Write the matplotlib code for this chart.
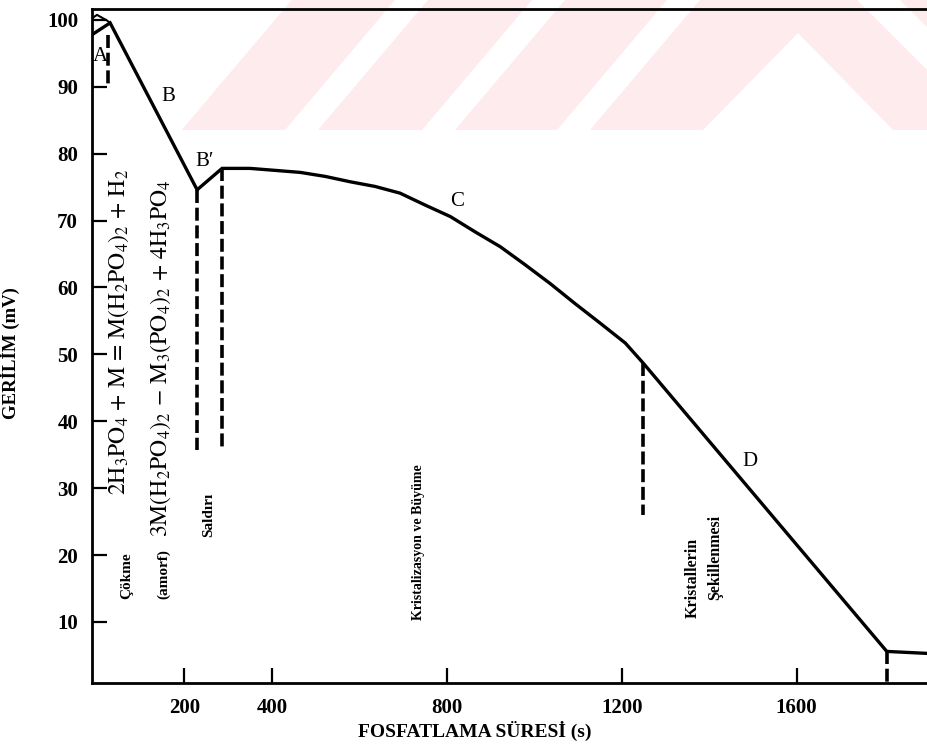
import matplotlib
matplotlib.use('Agg')
import numpy as np
from matplotlib import pyplot as plt
from matplotlib.patches import Polygon

plt.rcParams['font.family'] = ['Liberation Serif', 'DejaVu Serif']
plt.rcParams['mathtext.fontset'] = 'stix'

# curve (time s, potential mV)
t_curve = [-11, 30, 229, 286, 350, 408, 465, 522, 579, 636, 693, 751, 808, 865,
           922, 979, 1036, 1093, 1150, 1208, 1249, 1806, 1900]
v_curve = [97.8, 99.55, 74.6, 77.8, 77.8, 77.5, 77.2, 76.6, 75.8, 75.1, 74.1, 72.3, 70.6, 68.3,
           66.1, 63.4, 60.6, 57.6, 54.7, 51.7, 48.7, 5.6, 5.3]
# small hook at the top-left corner
t_hook = [-11, 0, 23, 30]
v_hook = [100.25, 100.75, 99.9, 99.55]

# dashed stage markers: (time, top, bottom)
stage_t = [26, 229, 286, 1249, 1806]
stage_top = [97.8, 74.6, 77.8, 48.7, 5.6]
stage_bot = [90.3, 35.7, 36.0, 26.0, 0.9]

point_labels = ['A', 'B', 'B′', 'C', 'D']
point_t = [8, 164, 246, 823, 1493]
point_v = [94.5, 88.5, 78.9, 72.8, 34.0]

x_ticks = [200, 400, 800, 1200, 1600]
y_ticks = [10, 20, 30, 40, 50, 60, 70, 80, 90, 100]

W, H = 927, 745
fig = plt.figure(figsize=(W / 100, H / 100), dpi=100)


def fpx(x, y):
    return (x / W, 1 - y / H)


# faint pink watermark at the top
pink = '#fdebee'
bands = [(181.7, 285), (318, 422), (455, 557)]
for b0, b1 in bands:
    pts = [fpx(b0, 130), fpx(b0 + 110, 0), fpx(b1 + 110, 0), fpx(b1, 130)]
    fig.patches.append(Polygon(pts, closed=True, transform=fig.transFigure,
                               facecolor=pink, edgecolor='none', zorder=-1))
lam = [(590, 130), (700, 0), (857, 0), (927, 70), (927, 130), (893, 130), (798, 33), (703, 130)]
fig.patches.append(Polygon([fpx(*p) for p in lam], closed=True, transform=fig.transFigure,
                           facecolor=pink, edgecolor='none', zorder=-1))
fig.patches.append(Polygon([fpx(900, 0), fpx(927, 0), fpx(927, 27)], closed=True,
                           transform=fig.transFigure, facecolor=pink, edgecolor='none', zorder=-1))

ax = fig.add_axes([92 / W, 1 - 683 / H, (W - 92) / W, (683 - 8.5) / H])
ax.set_facecolor('none')
ax.set_xlim(-11.4, 1898)
ax.set_ylim(0.88, 101.7)

ax.plot(t_curve, v_curve, color='black', lw=2.4, solid_joinstyle='miter')
ax.plot(t_hook, v_hook, color='black', lw=1.5)
for t, a, b in zip(stage_t, stage_top, stage_bot):
    ax.plot([t, t], [a, b], color='black', lw=2.6, linestyle=(0, (3.6, 1.3)))

for lab, t, v in zip(point_labels, point_t, point_v):
    ax.text(t, v, lab, fontsize=15, ha='center', va='center')

# reaction equations and stage names
ax.text(49, 53.4, r'$\mathrm{2H_3PO_4\,+\,M\,=\,M(H_2PO_4)_2\,+\,H_2}$',
        rotation=90, fontsize=17, ha='center', va='center')
ax.text(145, 49.5, r'$\mathrm{3M(H_2PO_4)_2\,-\,M_3(PO_4)_2\,+\,4H_3PO_4}$',
        rotation=90, fontsize=17, ha='center', va='center')
stage_names = ['Çökme', '(amorf)', 'Saldırı', 'Kristalizasyon ve Büyüme',
               'Kristallerin', 'Şekillenmesi']
stage_nt = [69, 152, 255, 735, 1362, 1413]
stage_nv = [16.9, 17.2, 26.0, 22.0, 16.6, 19.7]
stage_fs = [11, 11, 11, 10, 11.5, 11.5]
for s, t, v, fs in zip(stage_names, stage_nt, stage_nv, stage_fs):
    ax.text(t, v, s, rotation=90, fontsize=fs, fontweight='bold', ha='center', va='center')

for side in ['left', 'bottom', 'top']:
    ax.spines[side].set_linewidth(2.0)
ax.spines['right'].set_visible(False)

ax.set_xticks(x_ticks)
ax.set_yticks(y_ticks)
ax.tick_params(axis='both', direction='in', length=11, width=1.6, labelsize=15)
ax.tick_params(axis='x', pad=11)
ax.tick_params(axis='y', pad=10)
for lab in ax.get_xticklabels() + ax.get_yticklabels():
    lab.set_fontweight('bold')

ax.set_xlabel('FOSFATLAMA SÜRESİ (s)', fontsize=14, fontweight='bold')
ax.set_ylabel('GERİLİM (mV)', fontsize=13.5, fontweight='bold')
ax.xaxis.set_label_coords((475 - 92) / 835, -0.056)
ax.yaxis.set_label_coords((20 - 92) / 835, 0.5 - (353 - 346) / 674.5)

fig.savefig('out.png', dpi=100)
